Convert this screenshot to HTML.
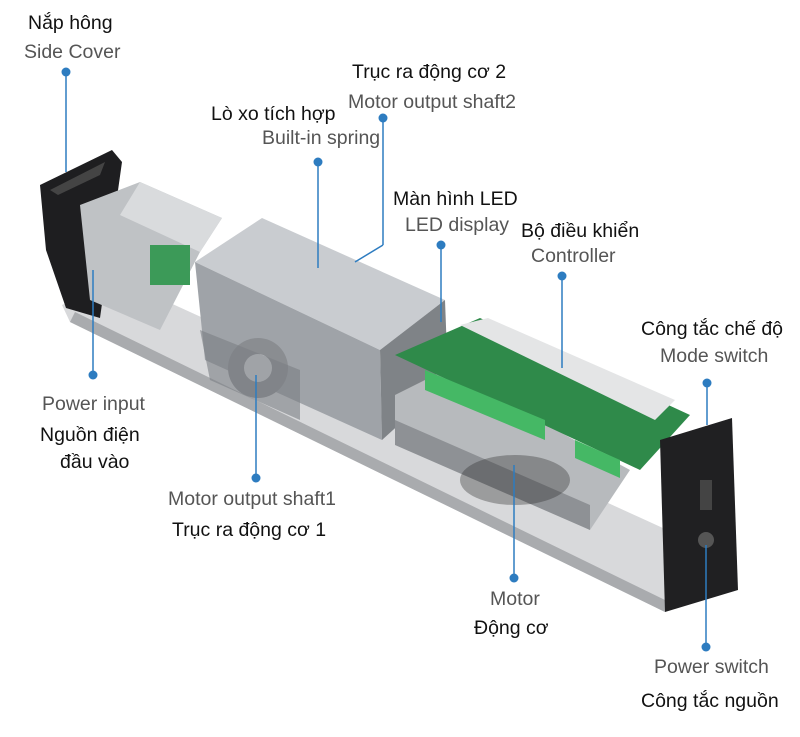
<!DOCTYPE html>
<html><head><meta charset="utf-8">
<style>
html,body{margin:0;padding:0;background:#fff;}
#c{position:relative;width:800px;height:737px;overflow:hidden;font-family:"Liberation Sans","Noto Sans CJK SC",sans-serif;}
.t{position:absolute;font-size:19.5px;white-space:nowrap;line-height:22px;}
.b{color:#111;}
.g{color:#555;}
svg{position:absolute;left:0;top:0;}
</style></head><body><div id="c">
<svg width="800" height="737" viewBox="0 0 800 737">
  <polygon points="62,305 120,280 700,545 665,612 70,322" fill="#d8d9db"/>
  <polygon points="70,322 665,612 665,600 75,312" fill="#a9abae"/>
  <polygon points="40,185 112,150 122,162 100,318 66,308 46,250" fill="#1e1e20"/>
  <polygon points="50,190 105,162 100,175 58,195" fill="#444"/>
  <polygon points="80,205 140,182 222,218 200,252 160,330 90,300" fill="#bfc2c5"/>
  <polygon points="140,182 222,218 200,252 120,215" fill="#d9dbdd"/>
  <rect x="150" y="245" width="40" height="40" fill="#3c9a58"/>
  <polygon points="195,262 262,218 445,300 380,350" fill="#c9ccd0"/>
  <polygon points="195,262 380,350 382,440 205,360" fill="#9fa3a8"/>
  <polygon points="380,350 445,300 448,380 382,440" fill="#7f8387"/>
  <circle cx="258" cy="368" r="30" fill="#8a8d91"/>
  <circle cx="258" cy="368" r="14" fill="#d7d9dc"/>
  <polygon points="200,330 300,370 300,420 210,380" fill="#7c7f83" opacity="0.6"/>
  <polygon points="395,395 445,370 630,470 590,530 395,440" fill="#b7babd"/>
  <polygon points="395,420 590,505 590,530 395,445" fill="#8e9195"/>
  <ellipse cx="515" cy="480" rx="55" ry="25" fill="#2a2a2a" opacity="0.35"/>
  <polygon points="395,355 480,318 690,415 640,470" fill="#2f8a4a"/>
  <polygon points="460,325 488,318 675,400 655,420" fill="#e4e5e6"/>
  <polygon points="425,370 545,420 545,440 425,390" fill="#45b865"/>
  <polygon points="575,440 620,460 620,478 575,458" fill="#45b865"/>
  <polygon points="660,440 732,418 738,590 665,612" fill="#202022"/>
  <rect x="700" y="480" width="12" height="30" fill="#444"/>
  <circle cx="706" cy="540" r="8" fill="#555"/>
  <g stroke="#2d7cc0" stroke-width="1.5" fill="none">
    <line x1="66" y1="72" x2="66" y2="172"/>
    <line x1="383" y1="118" x2="383" y2="245"/><line x1="383" y1="245" x2="355" y2="262"/>
    <line x1="318" y1="162" x2="318" y2="268"/>
    <line x1="441" y1="245" x2="441" y2="322"/>
    <line x1="562" y1="276" x2="562" y2="368"/>
    <line x1="707" y1="383" x2="707" y2="425"/>
    <line x1="93" y1="375" x2="93" y2="270"/>
    <line x1="256" y1="478" x2="256" y2="375"/>
    <line x1="514" y1="578" x2="514" y2="465"/>
    <line x1="706" y1="647" x2="706" y2="545"/>
  </g>
  <g fill="#2d7cc0">
    <circle cx="66" cy="72" r="4.5"/><circle cx="383" cy="118" r="4.5"/>
    <circle cx="318" cy="162" r="4.5"/><circle cx="441" cy="245" r="4.5"/>
    <circle cx="562" cy="276" r="4.5"/><circle cx="707" cy="383" r="4.5"/>
    <circle cx="93" cy="375" r="4.5"/><circle cx="256" cy="478" r="4.5"/>
    <circle cx="514" cy="578" r="4.5"/><circle cx="706" cy="647" r="4.5"/>
  </g>
</svg>
<div class="t b" style="left:28px;top:12px">Nắp hông</div>
<div class="t g" style="left:24px;top:41px">Side Cover</div>
<div class="t b" style="left:352px;top:61px">Trục ra động cơ 2</div>
<div class="t g" style="left:348px;top:91px">Motor output shaft2</div>
<div class="t b" style="left:211px;top:103px">Lò xo tích hợp</div>
<div class="t g" style="left:262px;top:127px">Built-in spring</div>
<div class="t b" style="left:393px;top:188px">Màn hình LED</div>
<div class="t g" style="left:405px;top:214px">LED display</div>
<div class="t b" style="left:521px;top:220px">Bộ điều khiển</div>
<div class="t g" style="left:531px;top:245px">Controller</div>
<div class="t b" style="left:641px;top:318px">Công tắc chế độ</div>
<div class="t g" style="left:660px;top:345px">Mode switch</div>
<div class="t g" style="left:42px;top:393px">Power input</div>
<div class="t b" style="left:40px;top:424px">Nguồn điện</div>
<div class="t b" style="left:60px;top:451px">đầu vào</div>
<div class="t g" style="left:168px;top:488px">Motor output shaft1</div>
<div class="t b" style="left:172px;top:519px">Trục ra động cơ 1</div>
<div class="t g" style="left:490px;top:588px">Motor</div>
<div class="t b" style="left:474px;top:617px">Động cơ</div>
<div class="t g" style="left:654px;top:656px">Power switch</div>
<div class="t b" style="left:641px;top:690px">Công tắc nguồn</div>
</div></body></html>
